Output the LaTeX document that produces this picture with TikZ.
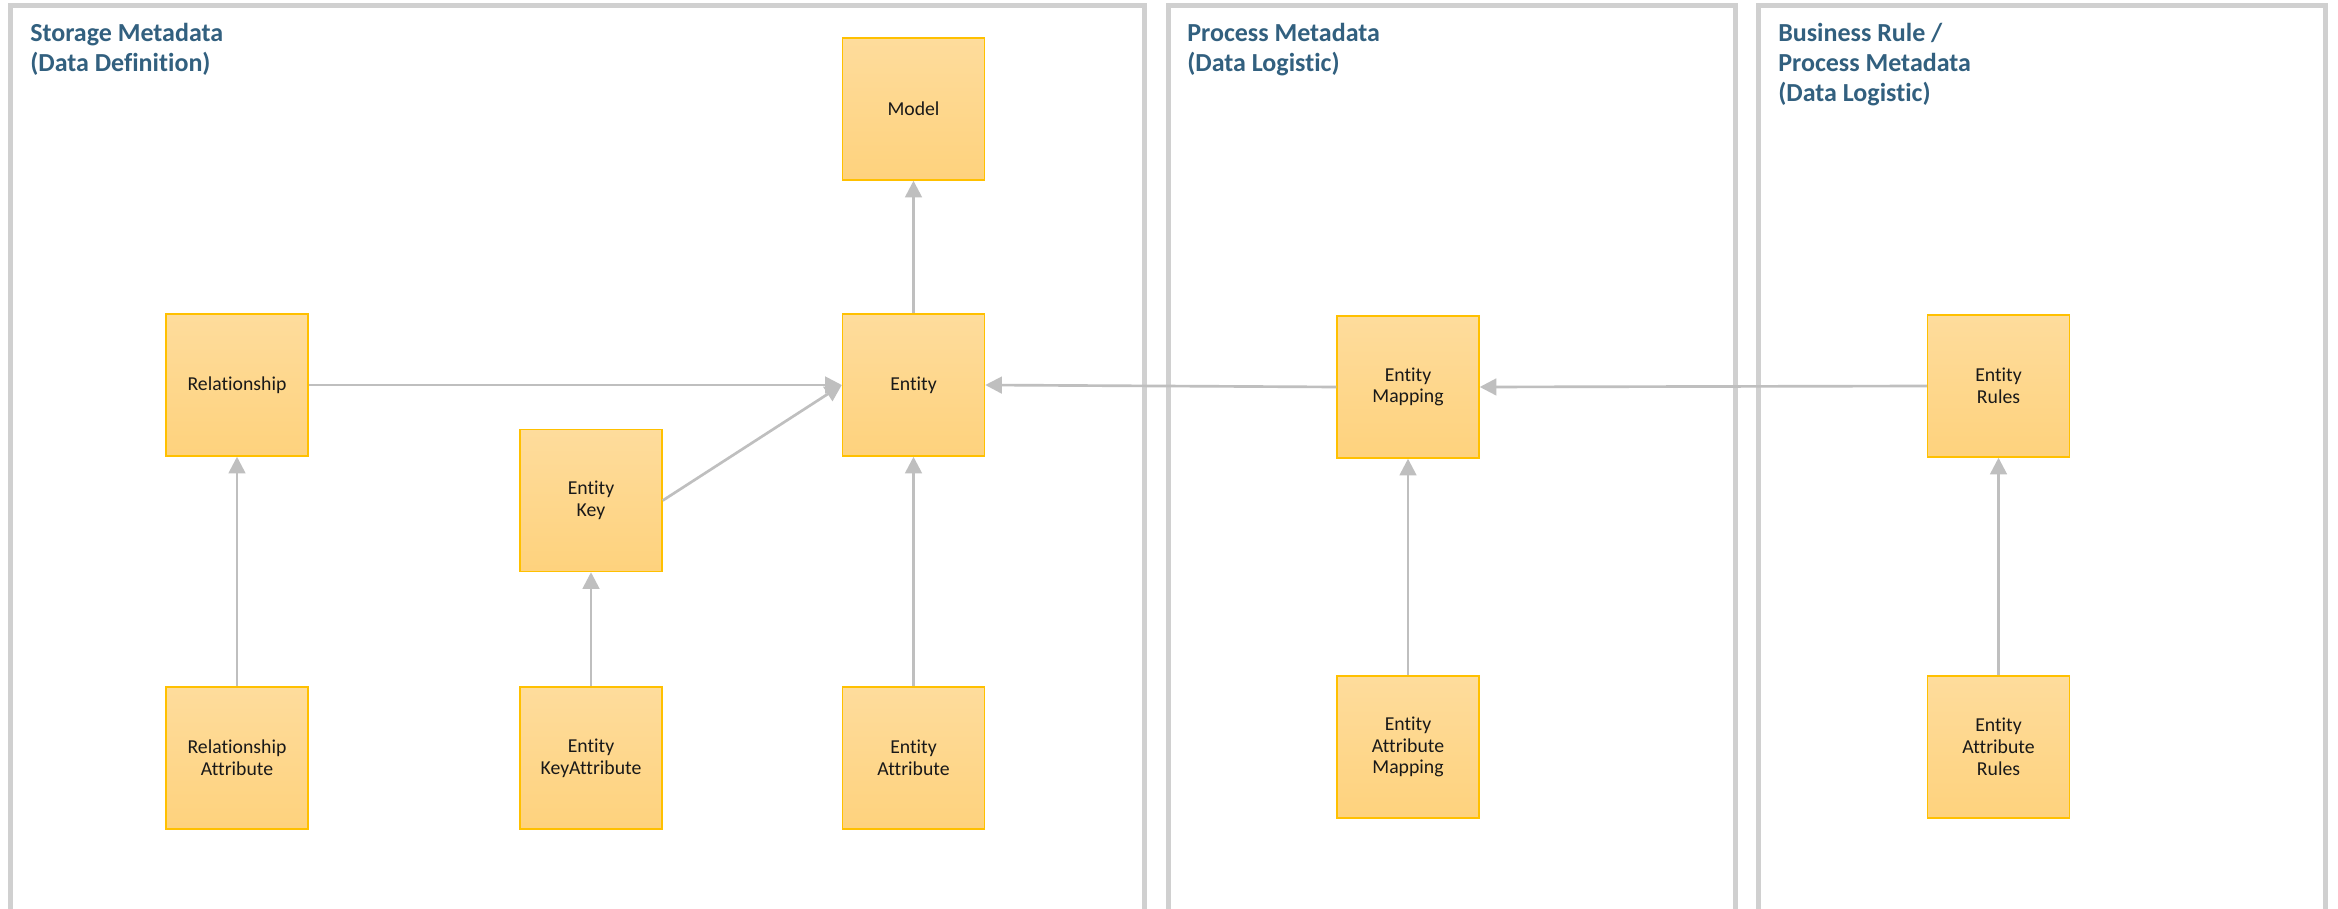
\documentclass[tikz,border=0pt]{standalone}
\usepackage{fontspec}
\setmainfont{Carlito}[Ligatures=NoCommon]
\usetikzlibrary{arrows.meta}
\definecolor{panelgray}{HTML}{D0D0D0}
\definecolor{arrowgray}{HTML}{BFBFBF}
\definecolor{boxedge}{HTML}{FFC000}
\definecolor{boxtop}{HTML}{FEDC9C}
\definecolor{boxbot}{HTML}{FED27D}
\definecolor{titleblue}{HTML}{32607F}
\begin{document}
\begin{tikzpicture}[x=0.75pt,y=-0.75pt,
  panel/.style={draw=panelgray,line width=3.75pt},
  box/.style={rectangle,draw=boxedge,line width=1.1pt,top color=boxtop,bottom color=boxbot,
    minimum width=106.5pt,minimum height=106.5pt,inner sep=0pt,align=center,
    font=\fontsize{14.8}{16.3}\selectfont,text=black!90},
  title/.style={anchor=base west,inner sep=0pt,text=titleblue,font=\bfseries\fontsize{19.5}{22.5}\selectfont},
  conn/.style={draw=arrowgray,line width=2pt,-{Triangle[length=12.5pt,width=12.5pt]}}]
\useasboundingbox (0,0) rectangle (2338,909);
\fill[white] (0,0) rectangle (2338,909);
% panels
\draw[panel] (10.5,909) -- (10.5,5.5) -- (1144.5,5.5) -- (1144.5,909);
\draw[panel] (1168,909) -- (1168,5.5) -- (1735.5,5.5) -- (1735.5,909);
\draw[panel] (1758.5,909) -- (1758.5,5.5) -- (2325.5,5.5) -- (2325.5,909);
% titles
\node[title] (t1) at (30,42) {\begin{tabular}[t]{@{}l@{}}Storage Metadata\\(Data Definition)\end{tabular}};
\node[title] (t2) at (1187,42) {\begin{tabular}[t]{@{}l@{}}Process Metadata\\(Data Logistic)\end{tabular}};
\node[title] (t3) at (1778,42) {\begin{tabular}[t]{@{}l@{}}Business Rule /\\Process Metadata\\(Data Logistic)\end{tabular}};
% boxes
\node[box] (model) at (913.5,109) {Model};
\node[box] (ent) at (913.5,385) {Entity};
\node[box] (rel) at (237,385) {Relationship};
\node[box] (ek) at (591,500.5) {Entity\\Key};
\node[box] (rela) at (237,758) {Relationship\\Attribute};
\node[box] (eka) at (591,758) {Entity\\KeyAttribute};
\node[box] (enta) at (913.5,758) {Entity\\Attribute};
\node[box] (emap) at (1408,387) {Entity\\Mapping};
\node[box] (eamap) at (1408,747) {Entity\\Attribute\\Mapping};
\node[box] (erul) at (1998.5,386) {Entity\\Rules};
\node[box] (earul) at (1998.5,747) {Entity\\Attribute\\Rules};
% connectors
\draw[conn] (ent) -- (model);
\draw[conn] (rel.east) -- (ent.west);
\draw[conn] (ek.east) -- (ent.west);
\draw[conn] (enta) -- (ent);
\draw[conn] (eka) -- (ek);
\draw[conn] (rela) -- (rel);
\draw[conn] (emap.west) -- (ent.east);
\draw[conn] (eamap) -- (emap);
\draw[conn] (erul.west) -- (emap.east);
\draw[conn] (earul) -- (erul);
\end{tikzpicture}
\end{document}
